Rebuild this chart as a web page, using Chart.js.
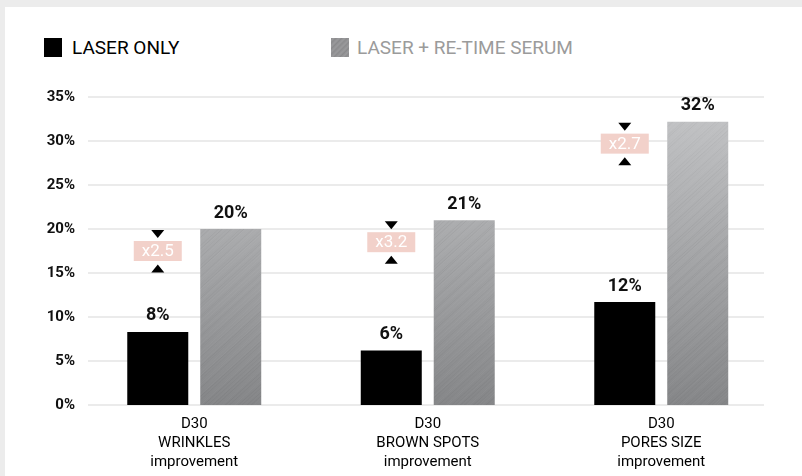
<!DOCTYPE html>
<html>
<head>
<meta charset="utf-8">
<script src="https://cdn.jsdelivr.net/npm/chart.js@4.4.1/dist/chart.umd.min.js"></script>
<style>
    body { margin: 0; background: #ececec; width: 802px; height: 476px; overflow: hidden; position: relative; font-family: Roboto, sans-serif; }
    #panel { position: absolute; left: 5px; top: 7px; right: 0; bottom: 0; background: #fff; }
    #wrap { position: absolute; left: 0; top: 0; width: 802px; height: 476px; }
    .legend { position: absolute; top: 37px; height: 20px; display: flex; align-items: center; font-size: 19px; font-weight: 400; }
    .legend .box { width: 18px; height: 19px; margin-right: 10px; }
    #lg1 { left: 44px; color: #000; }
    #lg1 .box { background: #000; }
    #lg2 { left: 331px; color: #9b9b9b; }
    #lg2 .box {
        background: repeating-linear-gradient(135deg, #8e8e90 0px, #9a9a9c 2px, #88888a 4px), #8c8c8e;
        margin-right: 8px;
    }
</style>
</head>
<body>
<div id="panel"></div>
<div class="legend" id="lg1"><span class="box"></span>LASER ONLY</div>
<div class="legend" id="lg2"><span class="box"></span>LASER + RE-TIME SERUM</div>
<div id="wrap"><canvas id="myChart" width="802" height="476"></canvas></div>
<script>
// Categories (multi-line x labels)
var categories = [
    ['D30', 'WRINKLES', 'improvement'],
    ['D30', 'BROWN SPOTS', 'improvement'],
    ['D30', 'PORES SIZE', 'improvement']
];

// Series values (% improvement)
var laserOnly = [8.3, 6.2, 11.7];
var laserSerum = [20, 21, 32.2];

// Multiplier badges above the black bars
var multipliers = ['x2.5', 'x3.2', 'x2.7'];

// Y ticks
var yTicks = [0, 5, 10, 15, 20, 25, 30, 35];

// Brushed-metal fill for the grey bars
function makeMetal(chart) {
    var area = chart.chartArea;
    var off = document.createElement('canvas');
    off.width = chart.width;
    off.height = chart.height;
    var c = off.getContext('2d');
    var g = c.createLinearGradient(0, area.top, 0, area.bottom);
    g.addColorStop(0, '#c5c6c8');
    g.addColorStop(0.5, '#a6a7a9');
    g.addColorStop(1, '#858688');
    c.fillStyle = g;
    c.fillRect(0, 0, off.width, off.height);
    // faint diagonal streaks, uneven spacing
    c.lineWidth = 1;
    var k = -off.height;
    var n = 0;
    while (k < off.width) {
        var a = 0.015 + 0.03 * Math.abs(Math.sin(n * 2.31));
        c.strokeStyle = (Math.sin(n * 1.73) > 0) ? 'rgba(255,255,255,' + a + ')' : 'rgba(0,0,0,' + a + ')';
        c.beginPath();
        c.moveTo(k, off.height);
        c.lineTo(k + off.height * 1.1, 0);
        c.stroke();
        k += 1.5 + 2.5 * Math.abs(Math.sin(n * 0.91));
        n++;
    }
    return c.createPattern(off, 'no-repeat');
}

// Gridlines that stop short of the chart edges
var gridPlugin = {
    id: 'insetGrid',
    beforeDatasetsDraw: function(chart) {
        var ctx = chart.ctx;
        var y = chart.scales.y;
        ctx.save();
        ctx.strokeStyle = '#e5e5e5';
        ctx.lineWidth = 1.5;
        yTicks.forEach(function(v) {
            var py = y.getPixelForValue(v);
            ctx.beginPath();
            ctx.moveTo(88, py);
            ctx.lineTo(764, py);
            ctx.stroke();
        });
        ctx.restore();
    }
};

// Value labels and multiplier badges
var labelPlugin = {
    id: 'valueLabels',
    afterDatasetsDraw: function(chart) {
        var ctx = chart.ctx;
        ctx.save();
        ctx.font = 'bold 18px Roboto';
        ctx.fillStyle = '#111';
        ctx.textAlign = 'center';
        ctx.textBaseline = 'bottom';
        chart.data.datasets.forEach(function(ds, di) {
            chart.getDatasetMeta(di).data.forEach(function(el, i) {
                ctx.fillText(Math.round(ds.data[i]) + '%', el.x, el.y - 7);
            });
        });

        var black = chart.getDatasetMeta(0).data;
        var grey = chart.getDatasetMeta(1).data;
        black.forEach(function(el, i) {
            var cx = el.x;
            var cy = grey[i].y + 22;
            // badge
            ctx.fillStyle = '#f2d1ca';
            ctx.fillRect(cx - 24, cy - 10, 48, 20);
            ctx.fillStyle = '#fff';
            ctx.font = '17px Roboto';
            ctx.textBaseline = 'middle';
            ctx.fillText(multipliers[i], cx, cy + 1);
            // arrows
            ctx.fillStyle = '#000';
            ctx.beginPath();
            ctx.moveTo(cx - 6.5, cy - 21);
            ctx.lineTo(cx + 6.5, cy - 21);
            ctx.lineTo(cx, cy - 13);
            ctx.closePath();
            ctx.fill();
            ctx.beginPath();
            ctx.moveTo(cx - 6.5, cy + 21.5);
            ctx.lineTo(cx + 6.5, cy + 21.5);
            ctx.lineTo(cx, cy + 13.5);
            ctx.closePath();
            ctx.fill();
        });
        ctx.restore();
    }
};

var ctx = document.getElementById('myChart').getContext('2d');

var myChart = new Chart(ctx, {
    type: 'bar',
    data: {
        labels: categories,
        datasets: [{
            label: 'LASER ONLY',
            data: laserOnly,
            backgroundColor: '#000'
        }, {
            label: 'LASER + RE-TIME SERUM',
            data: laserSerum,
            backgroundColor: function(c) {
                var chart = c.chart;
                if (!chart.chartArea) return '#a0a0a2';
                if (!chart._metal) chart._metal = makeMetal(chart);
                return chart._metal;
            }
        }]
    },
    options: {
        responsive: false,
        animation: false,
        categoryPercentage: 0.625,
        barPercentage: 0.836,
        layout: { padding: { top: 97, right: 24, left: 0, bottom: 0 } },
        plugins: {
            legend: { display: false },
            tooltip: { enabled: false }
        },
        scales: {
            x: {
                grid: { display: false, drawTicks: false },
                border: { display: false },
                ticks: {
                    color: '#000',
                    padding: 10,
                    maxRotation: 0,
                    font: { family: 'Roboto', size: 15, weight: 400, lineHeight: 1.27 }
                },
                afterFit: function(s) { s.height = 71; }
            },
            y: {
                min: 0,
                max: 35,
                grid: { display: false, drawTicks: false },
                border: { display: false },
                ticks: {
                    stepSize: 5,
                    padding: 2.5,
                    color: '#111',
                    font: { family: 'Roboto', size: 15, weight: 'bold' },
                    callback: function(v) { return v + '%'; }
                },
                afterFit: function(s) { s.width = 77.5; }
            }
        }
    },
    plugins: [gridPlugin, labelPlugin]
});
</script>
</body>
</html>
